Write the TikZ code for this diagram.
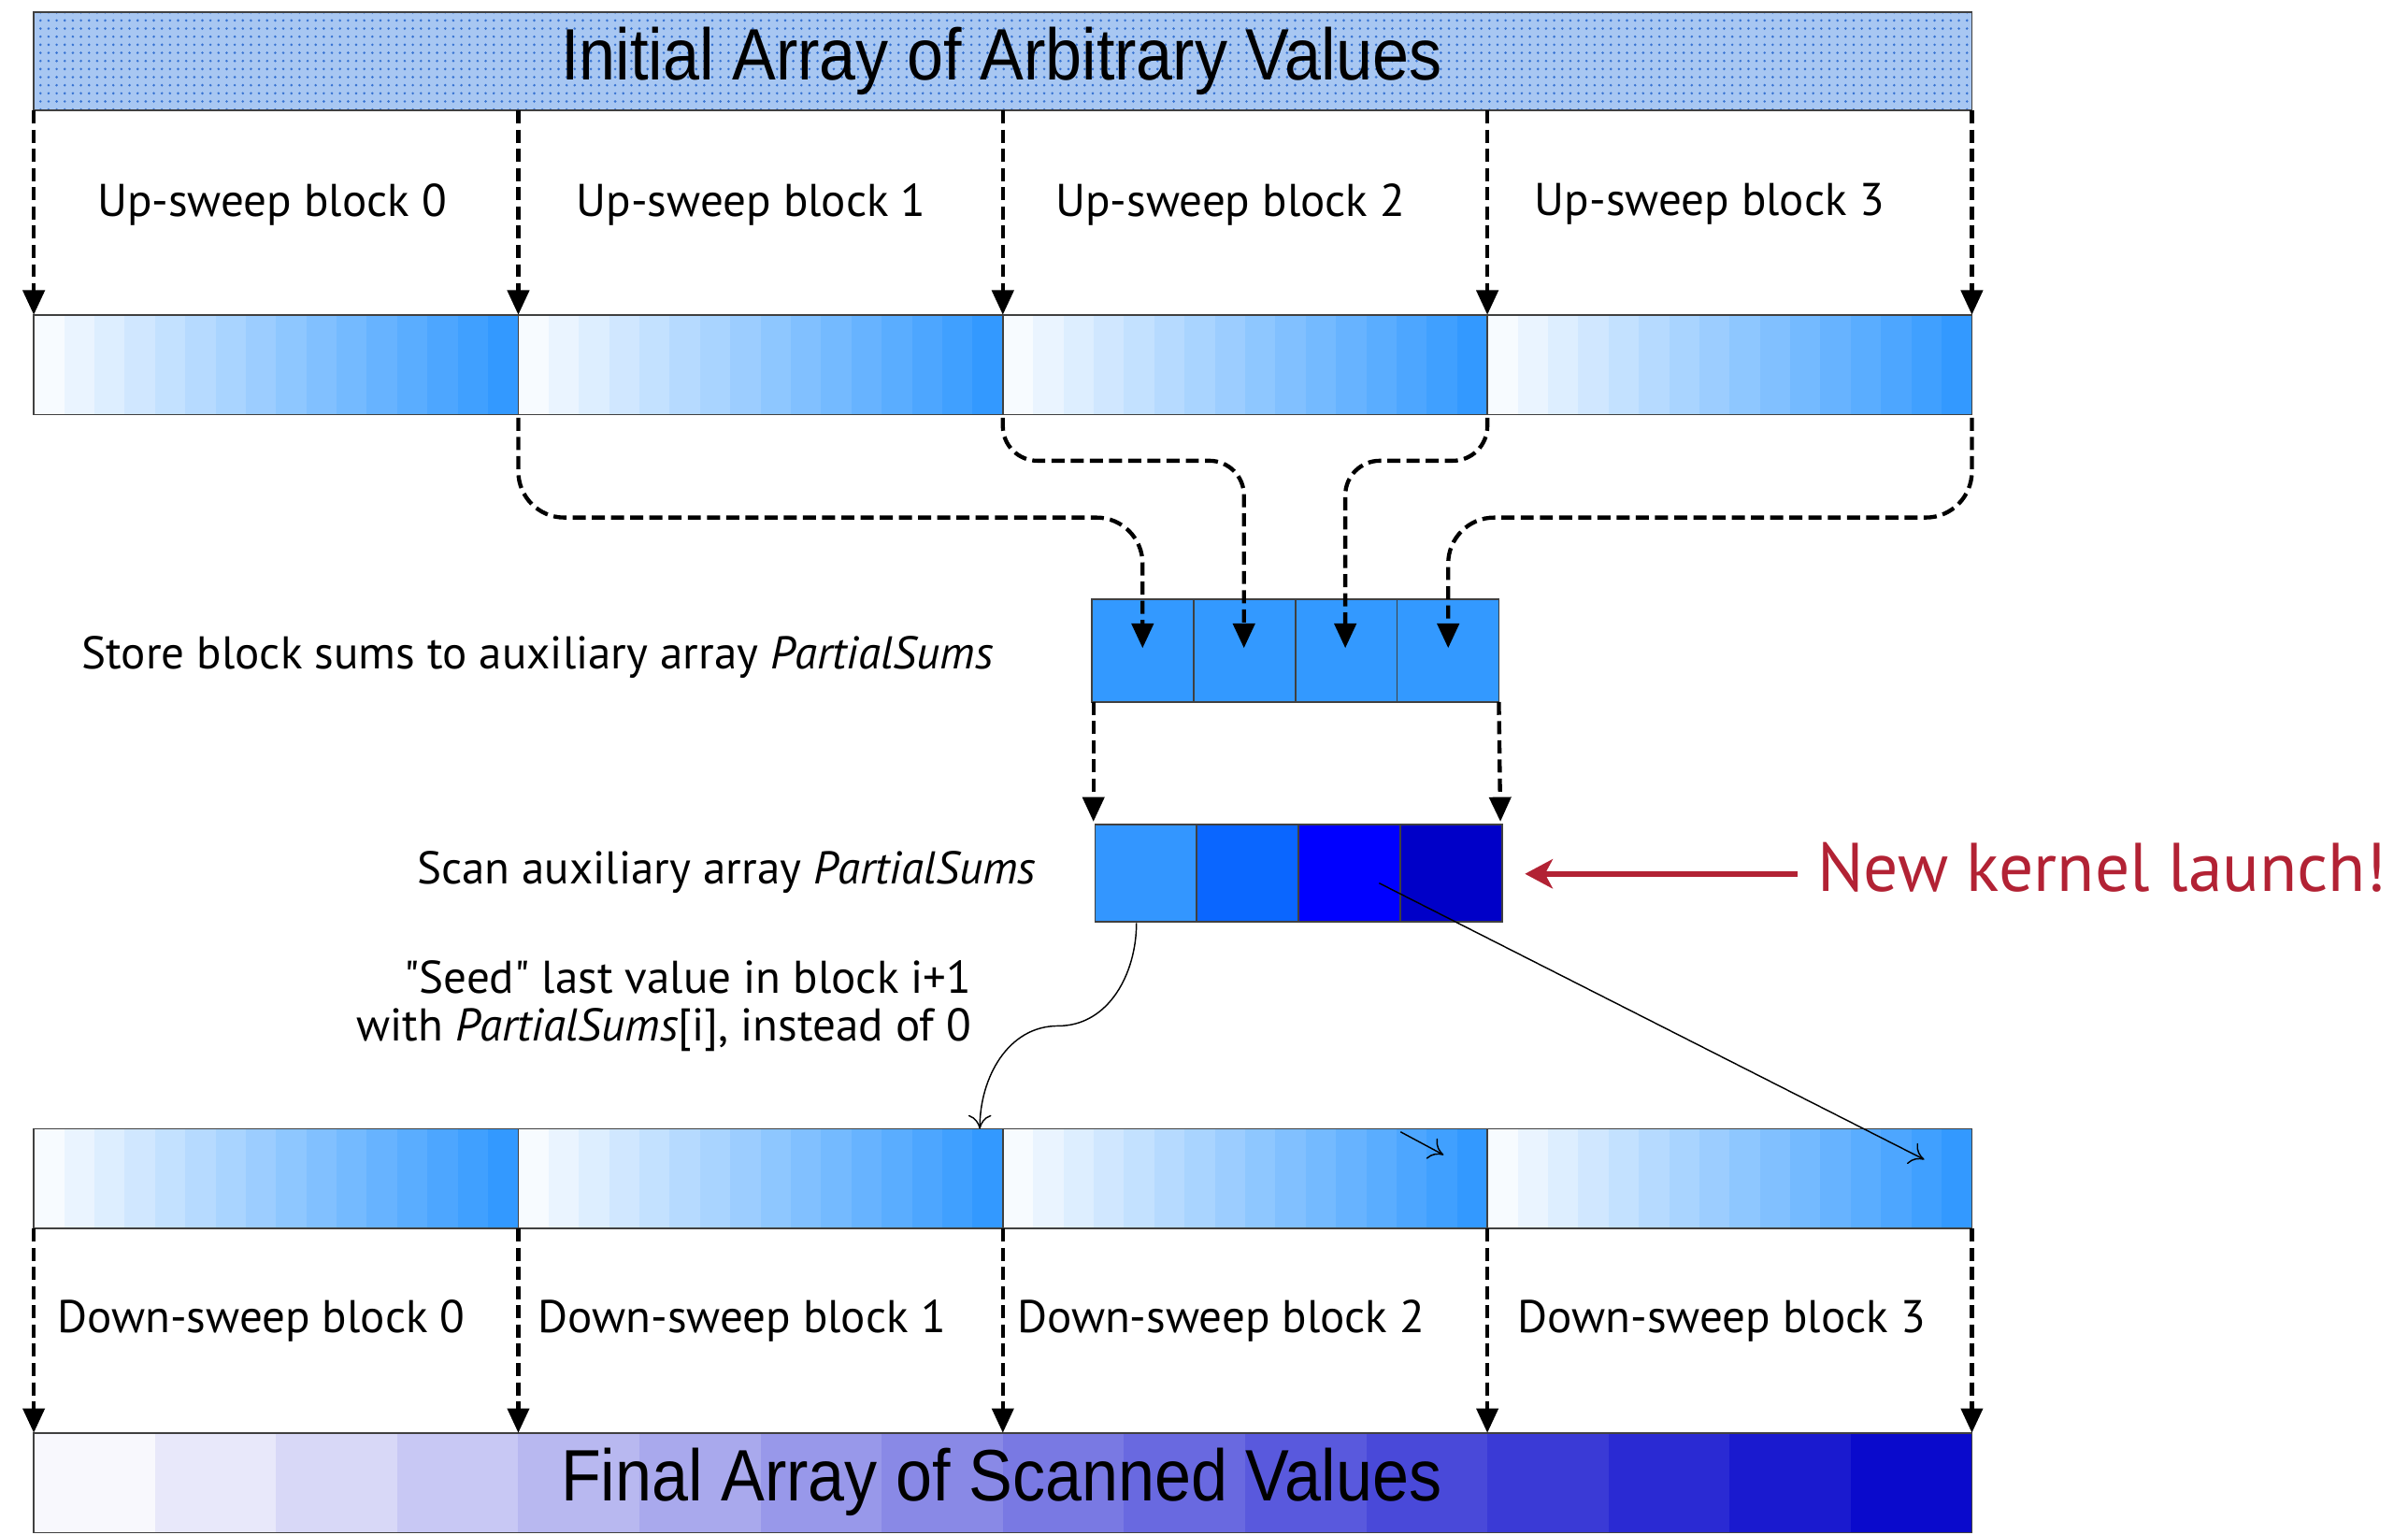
\documentclass[tikz,border=0pt]{standalone}
\usepackage{fontspec}
\setmainfont{PT Sans}[Ligatures=TeXOff]
\newfontfamily\barfont[FakeStretch=0.9]{Liberation Sans}
\usepackage{tikz}
\usepackage{tkz-euclide}
\usetikzlibrary{calc,arrows.meta,patterns}

\definecolor{upblue}{RGB}{51,153,255}
\definecolor{finblue}{RGB}{10,10,204}
\definecolor{initbg}{RGB}{168,199,242}
\definecolor{initdot}{RGB}{55,115,210}
\definecolor{scanA}{RGB}{51,150,255}
\definecolor{scanB}{RGB}{10,102,255}
\definecolor{scanC}{RGB}{0,0,255}
\definecolor{scanD}{RGB}{0,0,200}
\definecolor{kernred}{RGB}{178,34,52}

\begin{document}
\begin{tikzpicture}[x=0.02cm,y=-0.02cm,
    frame/.style={draw=black!75,line width=0.6pt},
    dashflow/.style={line width=1.5pt,dash pattern=on 0.17cm off 0.08cm,
        -{Triangle[length=0.32cm,width=0.28cm]}},
    thinflow/.style={line width=0.5pt,-{To[length=0.18cm,width=0.3cm]}},
    blocklbl/.style={font=\fontsize{17}{20}\selectfont,inner sep=0pt},
    barlbl/.style={font=\barfont\fontsize{27}{30}\selectfont,inner sep=0pt}]
                \useasboundingbox (0,0) rectangle (1568,999);
                % initial array
                \fill[initbg] (22,8) rectangle (1284,72);
                \fill[pattern=dots,pattern color=initdot] (22,8) rectangle (1284,72);
                \draw[frame] (22,8) rectangle (1284,72);
                \node[barlbl] (init) at (652,40) {Initial Array of Arbitrary Values};
                % up-sweep and down-sweep rows
                \foreach \row in {205,735}{
                    \foreach \b in {0,...,3}{
                        \foreach \i in {0,...,15}{
                            \pgfmathsetmacro\pct{4+\i*96/15}
                            \fill[upblue!\pct!white] ({22+\b*315.5+\i*315.5/16},\row)
                                rectangle ++({315.5/16+0.4},65);
                        }
                        \draw[frame] ({22+\b*315.5},\row) rectangle ++(315.5,65);
                    }
                }
                % final array
                \foreach \i in {0,...,15}{
                    \pgfmathsetmacro\pct{3+\i*97/15}
                    \fill[finblue!\pct!white] ({22+\i*78.875},933) rectangle ++(79.3,65);
                }
                \draw[frame] (22,933) rectangle (1284,998);
                \node[barlbl] (final) at (652,965) {Final Array of Scanned Values};
                % partial sums
                \foreach \i in {0,...,3}
                    \draw[frame,fill=upblue] ({711+\i*66.25},390) rectangle ++(66.25,67);
                \foreach \c [count=\i from 0] in {scanA,scanB,scanC,scanD}
                    \draw[frame,fill=\c] ({713+\i*66.25},537) rectangle ++(66.25,63);
                % points
                \foreach \k in {0,...,4}{
                    \tkzDefPoint({22+\k*315.5},72){t\k}
                    \tkzDefPoint({22+\k*315.5},205){u\k}
                    \tkzDefPoint({22+\k*315.5},272){b\k}
                    \tkzDefPoint({22+\k*315.5},800){d\k}
                    \tkzDefPoint({22+\k*315.5},933){f\k}
                }
                \tkzDefPoint(744,422){p0}
                \tkzDefPoint(810,422){p1}
                \tkzDefPoint(876,422){p2}
                \tkzDefPoint(943,422){p3}
                \tkzDefPoint(712,457){q0}
                \tkzDefPoint(976,457){q1}
                \tkzDefPoint(712,535){s0}
                \tkzDefPoint(977,535){s1}
                \tkzDefPoint(740,601){sd0}
                \tkzDefPoint(689,668){sdm}
                \tkzDefPoint(638,735){sd1}
                \tkzDefPoint(898,575){ln0}
                \tkzDefPoint(1253,755){ln1}
                \tkzDefPoint(912,737){sh0}
                \tkzDefPoint(940,752){sh1}
                \tkzDefPoint(993,569){kr}
                % sweeps
                \foreach \k in {0,...,4}{
                    \draw[dashflow] (t\k) -- (u\k);
                    \draw[dashflow] (d\k) -- (f\k);
                }
                \foreach \lbl [count=\i from 0] in {63,375,687,999}
                    \node[blocklbl,anchor=west] (up\i) at (\lbl,133) {Up-sweep block \i};
                \foreach \lbl [count=\i from 0] in {37,350,662,988}
                    \node[blocklbl,anchor=west] (dn\i) at (\lbl,860) {Down-sweep block \i};
                % block sums
                \draw[dashflow,rounded corners=0.6cm] (b1) -- ++(0,65) -| (p0);
                \draw[dashflow,rounded corners=0.45cm] (b2) -- ++(0,28) -| (p1);
                \draw[dashflow,rounded corners=0.45cm] (b3) -- ++(0,28) -| (p2);
                \draw[dashflow,rounded corners=0.6cm] (b4) -- ++(0,65) -| (p3);
                \draw[dashflow] (q0) -- (s0);
                \draw[dashflow] (q1) -- (s1);
                \node[blocklbl,anchor=west] (store) at (53,428)
                    {Store block sums to auxiliary array \textit{PartialSums}};
                \node[blocklbl,anchor=east] (scan) at (675,568)
                    {Scan auxiliary array \textit{PartialSums}};
                \node[blocklbl,anchor=east,align=right,font=\fontsize{17}{17.6}\selectfont] (seed) at (633,655)
                    {"Seed" last value in block i+1\\with \textit{PartialSums}[i], instead of 0};
                %\draw (sd0) -- (sd1);
                \draw[thinflow] (sd0) to[out=-90,in=0] (sdm) to[out=180,in=90] (sd1);
                \draw[thinflow] (ln0) -- (ln1);
                \draw[thinflow] (sh0) -- (sh1);
                % kernel launch
                \node[blocklbl,anchor=west,text=kernred,font=\fontsize{25.5}{28}\selectfont] (kern) at (1183,565)
                    {New kernel launch!};
                \draw[kernred,line width=2.2pt,-{Stealth[length=0.36cm,width=0.38cm,inset=0.1cm]}]
                    ([xshift=-0.25cm]kern.west |- kr) -- (kr);
            \end{tikzpicture}
\end{document}
